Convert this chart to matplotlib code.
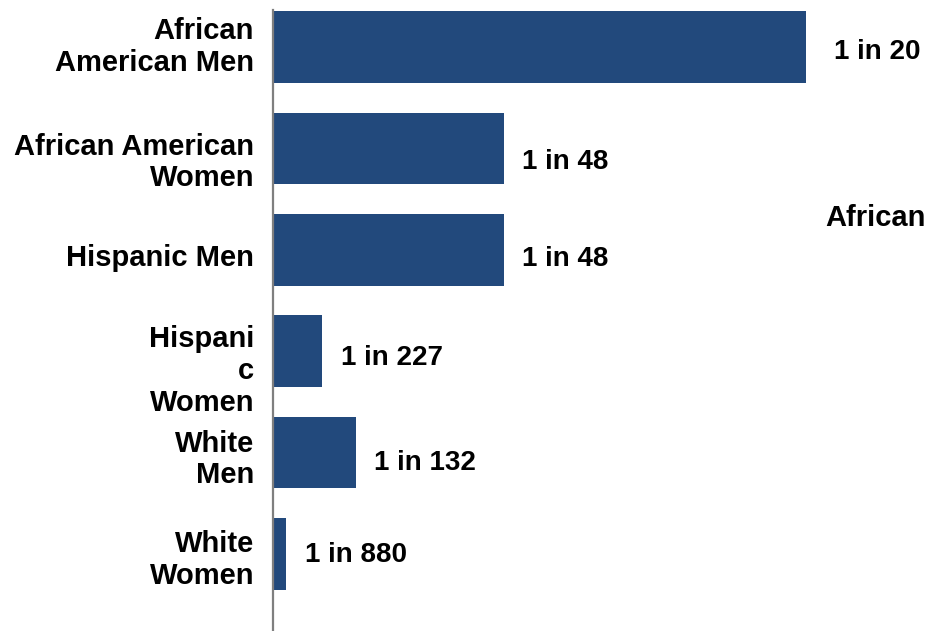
import numpy as np
import matplotlib.pyplot as plt

plt.rcParams['font.family'] = ['Liberation Sans', 'DejaVu Sans']

# groups from top to bottom, bar lengths (1 in 20 = 5.0)
groups = ['African\nAmerican Men', 'African American\nWomen', 'Hispanic Men',
          'Hispani\nc\nWomen', 'White\nMen', 'White\nWomen']
values = [5.0, 2.17, 2.17, 0.46, 0.78, 0.12]
labels = ['1 in 20', '1 in 48', '1 in 48', '1 in 227', '1 in 132', '1 in 880']

# small vertical nudges of the texts (pixels, downward)
group_dy = [0, 14, 8, 20, 7, 6]
label_dy = [5, 14, 9, 7, 10, 1]
label_dx = [28, 18, 18, 19, 18, 19]

fig = plt.figure(figsize=(9.26, 6.31), dpi=100)
ax = fig.add_axes([273 / 926, 0, 653 / 926, 621 / 631])

y = np.arange(len(groups))
ax.barh(y, values, height=0.705, color='#22497C', zorder=2)

ax.set_xlim(0, 653 / 106.6)
ax.set_ylim(len(groups) - 1 + 0.76, -0.365)

for i in range(len(groups)):
    ax.annotate(groups[i], xy=(0, y[i]), xytext=(-19, -group_dy[i]),
                textcoords='offset pixels', ha='right', va='center',
                fontsize=21, fontweight='bold', linespacing=1.17)
    ax.annotate(labels[i], xy=(values[i], y[i]), xytext=(label_dx[i], -label_dy[i]),
                textcoords='offset pixels', ha='left', va='center',
                fontsize=20, fontweight='bold')

# stray text on the right edge
fig.text(825 / 926, 1 - 218 / 631, 'African', ha='left', va='center',
         fontsize=21, fontweight='bold')

for s in ['top', 'right', 'bottom']:
    ax.spines[s].set_visible(False)
ax.spines['left'].set_color('#7f7f7f')
ax.spines['left'].set_linewidth(1.6)
ax.set_xticks([])
ax.set_yticks([])
ax.patch.set_alpha(0)

fig.savefig('out.png', dpi=100)
